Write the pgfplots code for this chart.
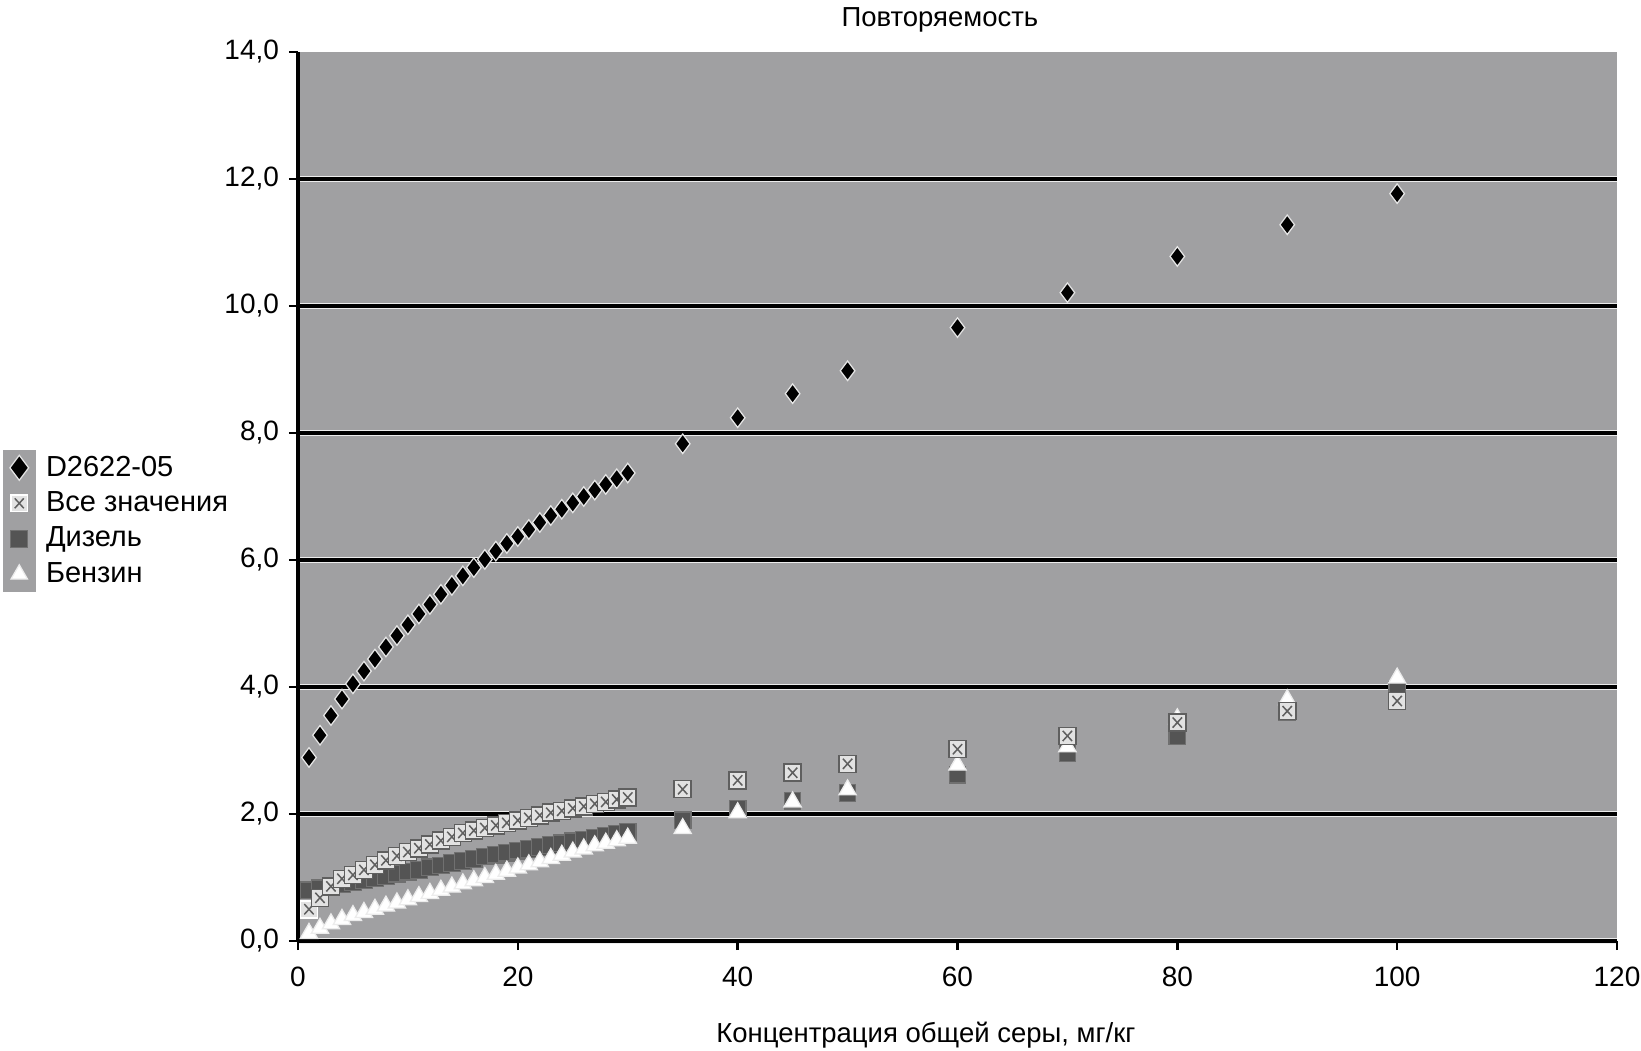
\documentclass[border=0pt]{standalone}
\usepackage{pgfplots}
\usepackage{pgfplotstable}
\pgfplotsset{compat=1.18}
\usepackage{fontspec}
\setmainfont{Liberation Sans}
\definecolor{bg}{RGB}{160,160,162}
\definecolor{boxfill}{RGB}{226,226,226}
\definecolor{xgray}{RGB}{95,95,95}
\definecolor{dies}{RGB}{84,84,84}
\definecolor{diesedge}{RGB}{112,112,112}

\pgfdeclareplotmark{boxx}{%
  \pgfpathrectangle{\pgfqpoint{-\pgfplotmarksize}{-\pgfplotmarksize}}{\pgfqpoint{2\pgfplotmarksize}{2\pgfplotmarksize}}%
  \pgfusepathqfillstroke
  \pgfsetstrokecolor{xgray}%
  \pgfpathmoveto{\pgfqpoint{-0.55\pgfplotmarksize}{-0.6\pgfplotmarksize}}%
  \pgfpathlineto{\pgfqpoint{0.55\pgfplotmarksize}{0.6\pgfplotmarksize}}%
  \pgfpathmoveto{\pgfqpoint{-0.55\pgfplotmarksize}{0.6\pgfplotmarksize}}%
  \pgfpathlineto{\pgfqpoint{0.55\pgfplotmarksize}{-0.6\pgfplotmarksize}}%
  \pgfusepathqstroke
}

\pgfplotstableread{
x y
1 2.89
2 3.24
3 3.55
4 3.81
5 4.05
6 4.25
7 4.44
8 4.63
9 4.81
10 4.98
11 5.15
12 5.30
13 5.46
14 5.60
15 5.75
16 5.88
17 6.01
18 6.14
19 6.26
20 6.37
21 6.48
22 6.59
23 6.70
24 6.80
25 6.90
26 7.00
27 7.10
28 7.19
29 7.28
30 7.37
35 7.83
40 8.24
45 8.62
50 8.98
60 9.66
70 10.21
80 10.78
90 11.28
100 11.77
}\dtwo

\pgfplotstableread{
x y
1 0.50
2 0.68
3 0.86
4 0.98
5 1.04
6 1.12
7 1.20
8 1.27
9 1.34
10 1.40
11 1.46
12 1.52
13 1.58
14 1.64
15 1.70
16 1.74
17 1.78
18 1.82
19 1.86
20 1.90
21 1.94
22 1.98
23 2.02
24 2.05
25 2.09
26 2.12
27 2.16
28 2.19
29 2.23
30 2.26
35 2.39
40 2.53
45 2.65
50 2.79
60 3.02
70 3.23
80 3.44
90 3.62
100 3.78
}\vse

\pgfplotstableread{
x y
1 0.80
2 0.83
3 0.86
4 0.89
5 0.93
6 0.96
7 0.99
8 1.02
9 1.06
10 1.09
11 1.12
12 1.16
13 1.19
14 1.23
15 1.26
16 1.29
17 1.33
18 1.36
19 1.39
20 1.42
21 1.45
22 1.48
23 1.51
24 1.54
25 1.57
26 1.60
27 1.63
28 1.66
29 1.69
30 1.72
35 1.90
40 2.08
45 2.21
50 2.33
60 2.62
70 2.96
80 3.22
90 3.60
100 3.96
}\diesel

\pgfplotstableread{
x y
1 0.12
2 0.20
3 0.27
4 0.34
5 0.40
6 0.45
7 0.50
8 0.55
9 0.60
10 0.65
11 0.70
12 0.75
13 0.80
14 0.85
15 0.90
16 0.95
17 1.00
18 1.05
19 1.10
20 1.15
21 1.20
22 1.25
23 1.30
24 1.35
25 1.40
26 1.45
27 1.50
28 1.54
29 1.58
30 1.62
35 1.77
40 2.02
45 2.19
50 2.38
60 2.77
70 3.06
80 3.50
90 3.80
100 4.14
}\benzin

\begin{document}
\begin{tikzpicture}[font=\fontsize{11}{13}\selectfont]
\begin{axis}[
  scale only axis, width=527.6pt, height=355.6pt,
  xmin=0, xmax=120, ymin=0, ymax=14,
  xtick={0,20,...,120}, ytick={0,2,...,12},
  extra y ticks={14}, extra y tick style={grid=none},
  axis x line*=bottom, axis y line*=left,
  axis line style={line width=1.6pt, black, -},
  tick style={line width=1pt, black}, tick align=outside, major tick length=3.6pt,
  ymajorgrids,
  major grid style={draw=white!85!gray, double=black, double distance=1.3pt, line width=0.6pt},
  axis background/.style={fill=bg},
  /pgf/number format/assume math mode=true,
  ticklabel style={font=\fontsize{11.2}{13}\selectfont},
  yticklabel style={/pgf/number format/use comma, /pgf/number format/fixed, /pgf/number format/fixed zerofill, /pgf/number format/precision=1, inner sep=0pt, xshift=-3.8pt},
  xticklabel style={inner sep=0pt, yshift=-6.5pt},
  title={Повторяемость},
  title style={at={(axis description cs:0.4867,1)}, anchor=base, yshift=4.2pt, inner sep=0pt, font=\fontsize{11}{13}\selectfont},
  xlabel={Концентрация общей серы, мг/кг},
  xlabel style={at={(axis description cs:0.476,0)}, anchor=base, yshift=-40.4pt, inner sep=0pt, font=\fontsize{11}{13}\selectfont},
  legend style={at={(rel axis cs:-0.2244,0.4724)}, anchor=west, draw=none, fill=none,
    inner sep=0pt, row sep=0pt, column sep=3pt,
    font=\fontsize{11.6}{13}\selectfont, nodes={inner sep=1pt}},
  legend cell align=left,
  legend image code/.code={\fill[bg] (-6.5pt,-6.9pt) rectangle (6.5pt,6.9pt); \draw[#1] plot coordinates {(0pt,0pt)};},
]
\coordinate (bl) at (rel axis cs:0,0);
\addlegendimage{only marks, mark=diamond*, mark size=5pt, mark options={fill=black, draw=white!80!gray, line width=0.5pt}}
\addlegendentry{D2622-05}
\addlegendimage{only marks, mark=boxx, mark size=3.3pt, mark options={fill=boxfill, draw=white, line width=0.6pt}}
\addlegendentry{Все значения}
\addlegendimage{only marks, mark=square*, mark size=3.4pt, mark options={fill=dies, draw=diesedge, line width=0.5pt}}
\addlegendentry{Дизель}
\addlegendimage{only marks, mark=triangle*, mark size=3.8pt, mark options={fill=white, draw=white!85!gray, line width=0.5pt}}
\addlegendentry{Бензин}

\addplot[forget plot, only marks, mark=diamond*, mark size=3.9pt, mark options={fill=black, draw=white!80!gray, line width=0.5pt}] table[x=x,y=y] {\dtwo};
\addplot[forget plot, only marks, mark=square*, mark size=3.3pt, mark options={fill=dies, draw=diesedge, line width=0.5pt}] table[x=x,y=y] {\diesel};
\addplot[forget plot, only marks, mark=triangle*, mark size=4pt, mark options={fill=white, draw=white!85!gray, line width=0.5pt}] table[x=x,y=y] {\benzin};
\addplot[forget plot, only marks, mark=boxx, mark size=3.4pt, mark options={fill=boxfill, draw=white, line width=0.6pt}] table[x=x,y=y] {\vse};
\end{axis}
\pgfresetboundingbox
\path (bl) ++(-119.2pt,-44pt) rectangle ++(656.4pt,420.4pt);
\end{tikzpicture}
\end{document}
